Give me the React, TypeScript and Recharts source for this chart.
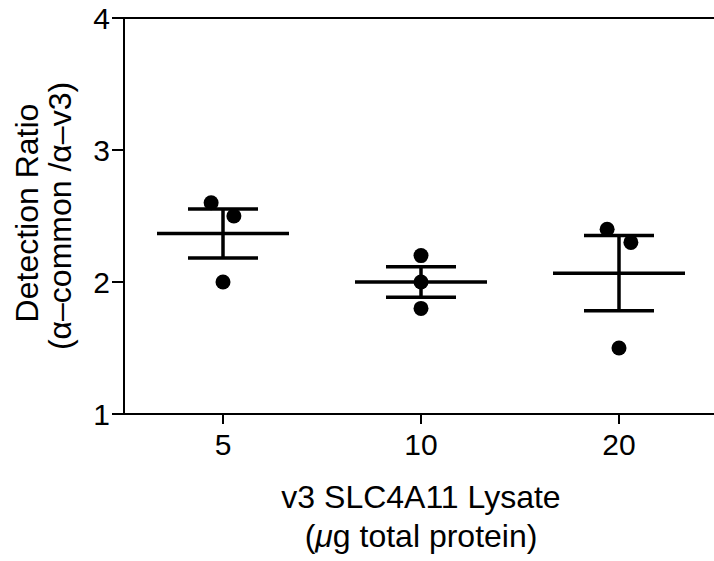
import React from "react"
import {
    ComposedChart,
    Scatter,
    XAxis,
    YAxis,
    ErrorBar,
    ReferenceLine,
} from "recharts"

// lysate amounts (µg total protein)
const categories = ["5", "10", "20"]

// individual detection ratios per lysate amount
const ratios5 = [2.6, 2.5, 2.0]
const ratios10 = [2.2, 2.0, 1.8]
const ratios20 = [2.4, 2.3, 1.5]

// horizontal scatter offset of each point (in category units)
const jitter5 = [-0.06, 0.055, 0]
const jitter10 = [0, 0, 0]
const jitter20 = [-0.06, 0.06, 0]

const yTicks = [1, 2, 3, 4]

const FONT = "'Liberation Sans', Arial, Helvetica, sans-serif"

const groups = [ratios5, ratios10, ratios20]
const jitters = [jitter5, jitter10, jitter20]

const mean = (v: number[]) => v.reduce((a, b) => a + b, 0) / v.length
const sem = (v: number[]) => {
    const m = mean(v)
    const sd = Math.sqrt(v.reduce((a, b) => a + (b - m) * (b - m), 0) / (v.length - 1))
    return sd / Math.sqrt(v.length)
}

const points = groups.flatMap((vals, i) =>
    vals.map((y, j) => ({ x: i + 1 + jitters[i][j], y }))
)
const summary = groups.map((vals, i) => ({ x: i + 1, y: mean(vals), sem: sem(vals) }))

const Dot = (props: any) => <circle cx={props.cx} cy={props.cy} r={7.5} fill="#000" />

const MeanLine = (props: any) => (
    <line
        x1={props.cx - 66}
        x2={props.cx + 66}
        y1={props.cy}
        y2={props.cy}
        stroke="#000"
        strokeWidth={3.5}
    />
)

const YTitle = (props: any) => {
    const vb = props.viewBox
    const cy = vb.y + vb.height / 2
    return (
        <g fontFamily={FONT} fontSize={32} fill="#000">
            <text x={38} y={cy - 3} textAnchor="middle" transform={`rotate(-90, 38, ${cy - 3})`}>
                Detection Ratio
            </text>
            <text x={71} y={cy} textAnchor="middle" transform={`rotate(-90, 71, ${cy})`}>
                (α–common /α–v3)
            </text>
        </g>
    )
}

const XTitle = (props: any) => {
    const vb = props.viewBox
    const cx = vb.x + vb.width / 2
    return (
        <g fontFamily={FONT} fontSize={32} fill="#000">
            <text x={cx} y={vb.y + 94} textAnchor="middle">
                v3 SLC4A11 Lysate
            </text>
            <text x={cx} y={vb.y + 133} textAnchor="middle">
                (<tspan fontStyle="italic">μ</tspan>g total protein)
            </text>
        </g>
    )
}

export default function App() {
    return (
        <div style={{ position: "absolute", left: 0, top: 0, width: 714, height: 561, overflow: "hidden", background: "#fff" }}>
            <ComposedChart width={718} height={561} margin={{ top: 18, right: 0, bottom: 0, left: 0 }}>
                <XAxis
                    type="number"
                    dataKey="x"
                    domain={[0.5, 3.5]}
                    ticks={[1, 2, 3]}
                    tickFormatter={(v) => categories[v - 1]}
                    height={147}
                    tickSize={10}
                    tickMargin={10}
                    stroke="#000"
                    strokeWidth={2}
                    tick={{ fill: "#000", fontSize: 30, fontFamily: FONT }}
                    label={{ content: XTitle }}
                    allowDataOverflow
                />
                <YAxis
                    type="number"
                    dataKey="y"
                    domain={[1, 4]}
                    ticks={yTicks}
                    width={124}
                    tickSize={12}
                    tickMargin={2}
                    stroke="#000"
                    strokeWidth={2}
                    tick={{ fill: "#000", fontSize: 30, fontFamily: FONT }}
                    label={{ content: YTitle }}
                    allowDataOverflow
                />
                <ReferenceLine y={4} stroke="#000" strokeWidth={2} />
                <Scatter data={summary} dataKey="y" shape={MeanLine} isAnimationActive={false}>
                    <ErrorBar dataKey="sem" direction="y" width={35} stroke="#000" strokeWidth={3.5} isAnimationActive={false} />
                </Scatter>
                <Scatter data={points} dataKey="y" shape={Dot} isAnimationActive={false} />
            </ComposedChart>
        </div>
    )
}
